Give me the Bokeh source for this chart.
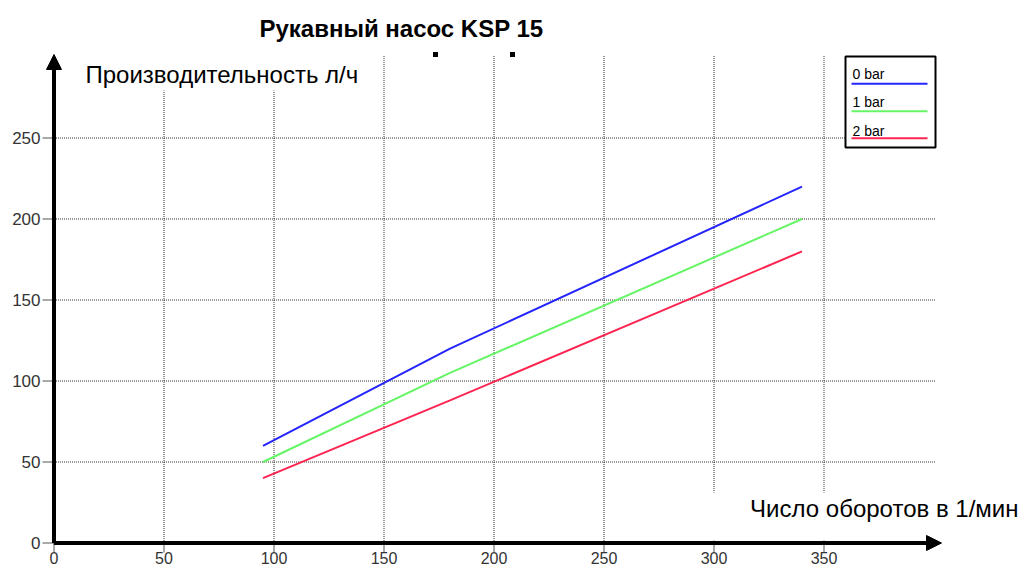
from bokeh.plotting import figure
from bokeh.models import Label, Arrow, NormalHead, Range1d
from bokeh.core.properties import value
from bokeh.embed import file_html
from bokeh.resources import INLINE

# ---- data ----
rpm = [95, 180, 340]
bar0 = [60, 120, 220]
bar1 = [50, 105, 200]
bar2 = [40, 88, 180]
series_names = ["0 bar", "1 bar", "2 bar"]
series_colors = ["#2424ff", "#66f566", "#ff2450"]
x_ticks = [0, 50, 100, 150, 200, 250, 300, 350]
y_ticks = [0, 50, 100, 150, 200, 250]
title_text = "Рукавный насос KSP 15"
ylabel_text = "Производительность л/ч"
xlabel_text = "Число оборотов в 1/мин"

FONT = "Liberation Sans"
W, H = 1025, 568
# canvas-pixel geometry of the plot
X0P, XS = 53.5, 2.2        # canvas x of x=0, px per unit
Y0P, YS = 542.5, 1.62      # canvas y of y=0, px per unit


def px(xp):
    return (xp - X0P) / XS


def py(yp):
    return (Y0P - yp) / YS


p = figure(width=W, height=H, output_backend="svg", toolbar_location=None,
           x_range=Range1d(px(0), px(W)), y_range=Range1d(py(H), py(0)),
           min_border=0)
p.outline_line_color = None
p.axis.visible = False
p.grid.visible = False
p.background_fill_color = "white"
p.border_fill_color = "white"

GRID = dict(line_color="#333333", line_width=1, line_dash="1 1")
X_END = px(935)
Y_END = py(55)

# grid lines
gx = x_ticks[1:]
gy = y_ticks[1:]
p.segment(x0=gx, y0=[0] * len(gx), x1=gx, y1=[Y_END] * len(gx), **GRID)
p.segment(x0=[0] * len(gy), y0=gy, x1=[X_END] * len(gy), y1=gy, **GRID)

# white areas behind the axis titles
p.quad(left=[px(80), px(690)], right=[px(372), px(W)],
       bottom=[py(90), py(540)], top=[py(40), py(492)],
       fill_color="white", line_color=None)

# tick marks
TICK = dict(line_color="#555555", line_width=1)
p.segment(x0=x_ticks, y0=[0] * len(x_ticks), x1=x_ticks, y1=[py(552)] * len(x_ticks), **TICK)
p.segment(x0=[px(42)] * len(y_ticks), y0=y_ticks, x1=[0] * len(y_ticks), y1=y_ticks, **TICK)

# tick labels
p.text(x=x_ticks, y=[py(557)] * len(x_ticks), text=[str(t) for t in x_ticks],
       text_font=value(FONT), text_font_size="16px", text_color="#333333",
       text_align="center", text_baseline="middle")
p.text(x=[px(40)] * len(y_ticks), y=y_ticks, text=[str(t) for t in y_ticks],
       text_font=value(FONT), text_font_size="17px", text_color="#333333",
       text_align="right", text_baseline="middle")

# data lines
for ys, c in zip([bar0, bar1, bar2], series_colors):
    p.line(rpm, ys, line_color=c, line_width=2)

# axes with arrows
p.add_layout(Arrow(x_start=0, y_start=0, x_end=px(941), y_end=0, line_width=4, line_color="black",
                   end=NormalHead(size=15, fill_color="black", line_color="black")))
p.add_layout(Arrow(x_start=0, y_start=0, x_end=0, y_end=py(54), line_width=4, line_color="black",
                   end=NormalHead(size=15, fill_color="black", line_color="black")))

# small marks under the title
p.scatter(x=[px(435), px(512)], y=[py(54), py(54)], marker="square", size=5,
          fill_color="black", line_color=None)

# titles
p.add_layout(Label(x=px(401), y=py(28), text=title_text, text_font=FONT, text_font_style="bold",
                   text_font_size="24px", text_align="center", text_baseline="middle",
                   text_color="black"))
p.add_layout(Label(x=px(85), y=py(74), text=ylabel_text, text_font=FONT,
                   text_font_size="24px", text_align="left", text_baseline="middle",
                   text_color="black"))
p.add_layout(Label(x=px(1018), y=py(508), text=xlabel_text, text_font=FONT,
                   text_font_size="24px", text_align="right", text_baseline="middle",
                   text_color="black"))

# legend (label above line)
p.quad(left=[px(845)], right=[px(935)], top=[py(56)], bottom=[py(147)],
       fill_color="white", line_color="black", line_width=2)
text_y = [73, 101.7, 130]
line_y = [83.3, 110.7, 137.7]
p.text(x=[px(852)] * 3, y=[py(t) for t in text_y], text=series_names,
       text_font=value(FONT), text_font_size="14px", text_color="black",
       text_align="left", text_baseline="middle")
p.segment(x0=[px(851)] * 3, y0=[py(t) for t in line_y], x1=[px(927)] * 3,
          y1=[py(t) for t in line_y], line_color=series_colors, line_width=2)

open("out.html", "w").write(file_html(p, INLINE))
